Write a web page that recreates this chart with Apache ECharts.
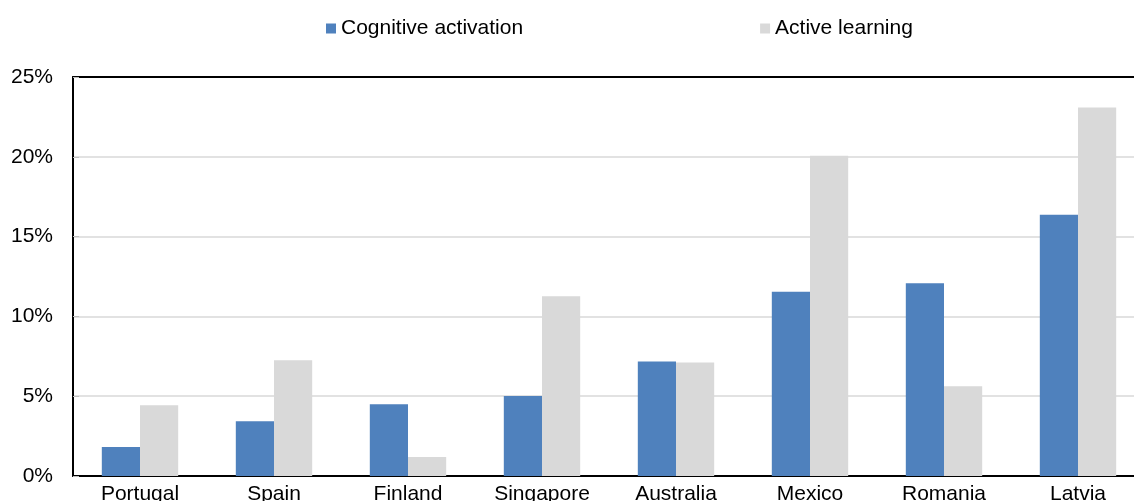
<!DOCTYPE html>
<html><head><meta charset="utf-8">
<script src="https://cdn.jsdelivr.net/npm/echarts@6/dist/echarts.min.js"></script>
<style>html,body{margin:0;padding:0;background:#fff;overflow:hidden;width:1134px;height:501px}#c{width:1146px;height:501px}</style>
</head><body><div id="c"></div>
<script>
const categories = ["Portugal","Spain","Finland","Singapore","Australia","Mexico","Romania","Latvia"];
const cognitiveActivation = [1.82, 3.43, 4.50, 5.02, 7.18, 11.54, 12.07, 16.37];
const activeLearning = [4.43, 7.26, 1.19, 11.27, 7.11, 20.06, 5.63, 23.09];
const seriesNames = ["Cognitive activation", "Active learning"];
const yTicks = [0, 5, 10, 15, 20, 25];

const font = "'Liberation Sans', Arial, sans-serif";
const chart = echarts.init(document.getElementById('c'), null, {renderer: 'canvas'});
chart.setOption({
  animation: false,
  legend: {
    top: 18, left: 326, padding: 0,
    itemWidth: 10, itemHeight: 10, itemGap: 237,
    icon: 'rect',
    textStyle: {fontFamily: font, fontSize: 21, color: '#000'},
    data: seriesNames
  },
  grid: {
    left: 73, top: 77, right: 1, bottom: 25,
    show: false, containLabel: false, outerBoundsMode: 'none'
  },
  xAxis: [{
    type: 'category', data: categories,
    axisLine: {lineStyle: {color: '#000', width: 2}},
    axisTick: {show: false},
    axisLabel: {fontFamily: font, fontSize: 21, color: '#000', margin: 8}
  }, {
    type: 'category', data: categories, position: 'top',
    axisLine: {show: true, lineStyle: {color: '#000', width: 2}},
    axisTick: {show: false}, axisLabel: {show: false}, splitLine: {show: false}
  }],
  yAxis: {
    type: 'value', min: 0, max: 25, interval: 5,
    axisLine: {show: true, lineStyle: {color: '#000', width: 2}},
    axisTick: {show: true, inside: true, length: 6, lineStyle: {color: '#bfbfbf'}},
    splitLine: {lineStyle: {color: '#d9d9d9', width: 1.5}},
    axisLabel: {fontFamily: font, fontSize: 21, color: '#000', margin: 20,
      formatter: v => yTicks.includes(v) ? v + '%' : ''}
  },
  series: [
    {name: seriesNames[0], type: 'bar', data: cognitiveActivation, barGap: '0%', barCategoryGap: '43%',
     itemStyle: {color: '#4F81BD'}},
    {name: seriesNames[1], type: 'bar', data: activeLearning, barGap: '0%', barCategoryGap: '43%',
     itemStyle: {color: '#D9D9D9'}}
  ]
});
</script></body></html>
